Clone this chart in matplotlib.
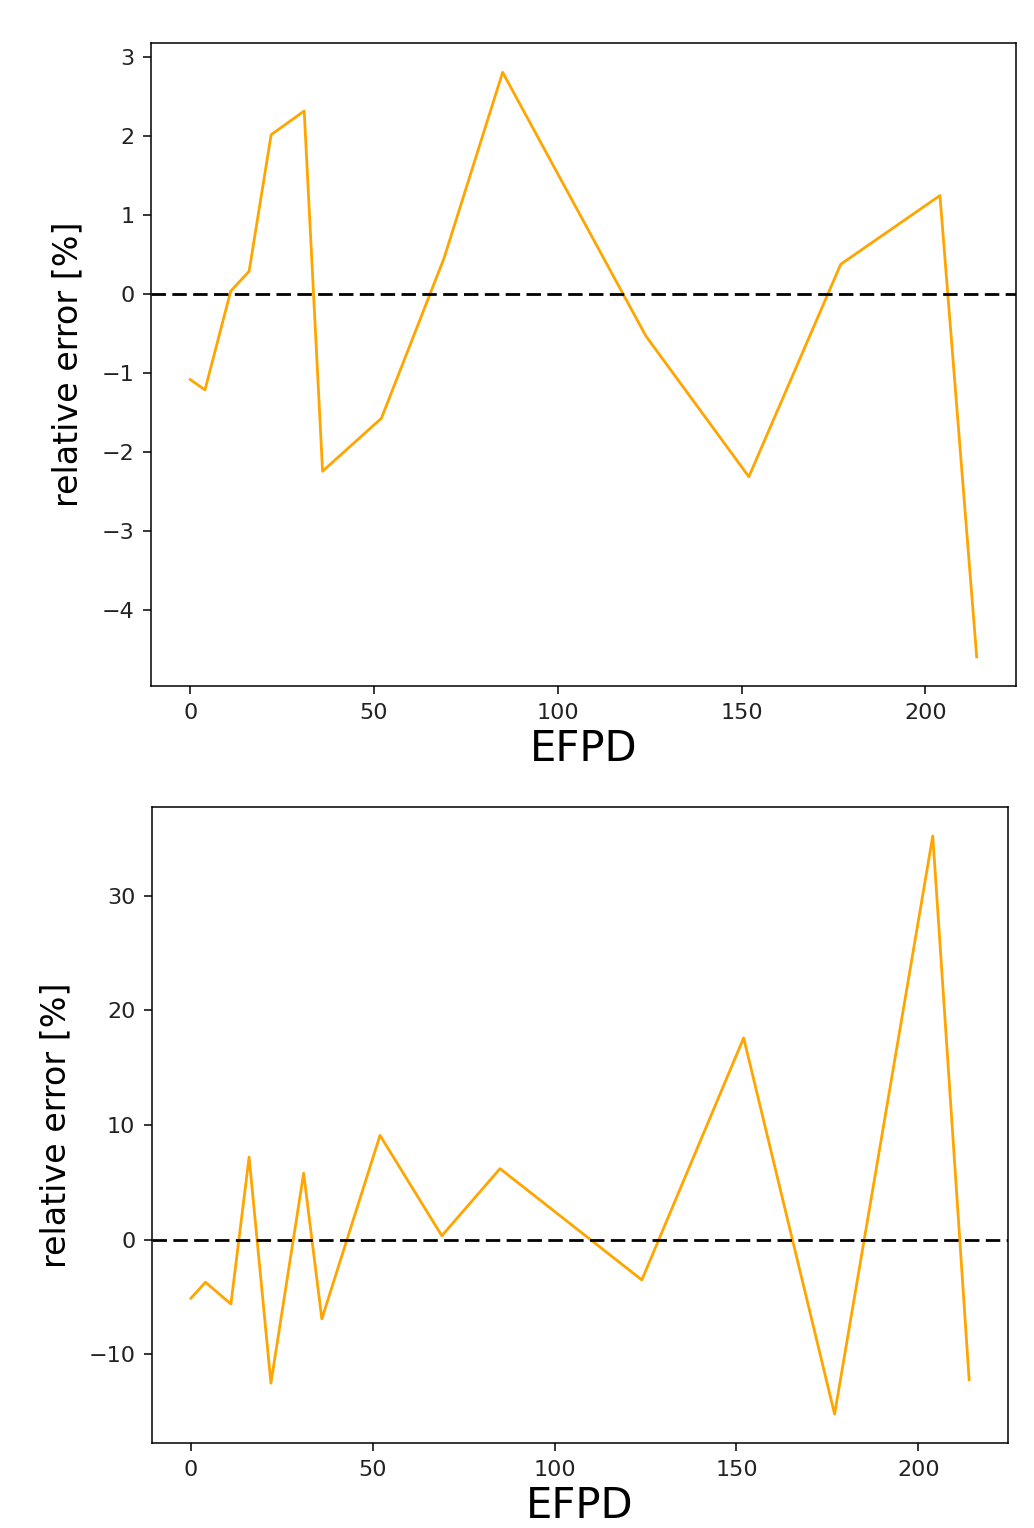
import matplotlib
matplotlib.use("Agg")
import matplotlib.pyplot as plt

# EFPD points and relative errors
efpd = [0, 4, 11, 16, 22, 31, 36, 52, 69, 85, 124, 152, 177, 204, 214]
err_top = [-1.08, -1.21, 0.04, 0.29, 2.02, 2.32, -2.24, -1.57, 0.45, 2.81,
           -0.53, -2.31, 0.38, 1.25, -4.59]
err_bottom = [-5.1, -3.7, -5.6, 7.2, -12.5, 5.8, -6.9, 9.1, 0.35, 6.2,
              -3.5, 17.6, -15.2, 35.2, -12.2]

fig = plt.figure(figsize=(10.34, 15.28), dpi=100)
ax1 = fig.add_axes([0.146, 0.551, 0.8366, 0.4208])
ax2 = fig.add_axes([0.147, 0.0556, 0.8279, 0.4162])

for ax, err in [(ax1, err_top), (ax2, err_bottom)]:
    ax.plot(efpd, err, color='orange', lw=2.0)
    ax.axhline(0, color='black', lw=2.0, linestyle=(0, (5.2, 2.3)))
    ax.set_xlabel("EFPD", fontsize=30, labelpad=4)
    ax.set_ylabel("relative error [%]", fontsize=24)
    ax.tick_params(labelsize=16, length=6, width=1.1, pad=6, labelcolor='#222222')
    for s in ax.spines.values():
        s.set_linewidth(1.1)

ax1.set_yticks([-4, -3, -2, -1, 0, 1, 2, 3])
ax2.set_yticks([-10, 0, 10, 20, 30])
ax1.yaxis.set_label_coords(-0.077, 0.5)
ax2.yaxis.set_label_coords(-0.093, 0.5)

fig.savefig("out.png", dpi=100)
